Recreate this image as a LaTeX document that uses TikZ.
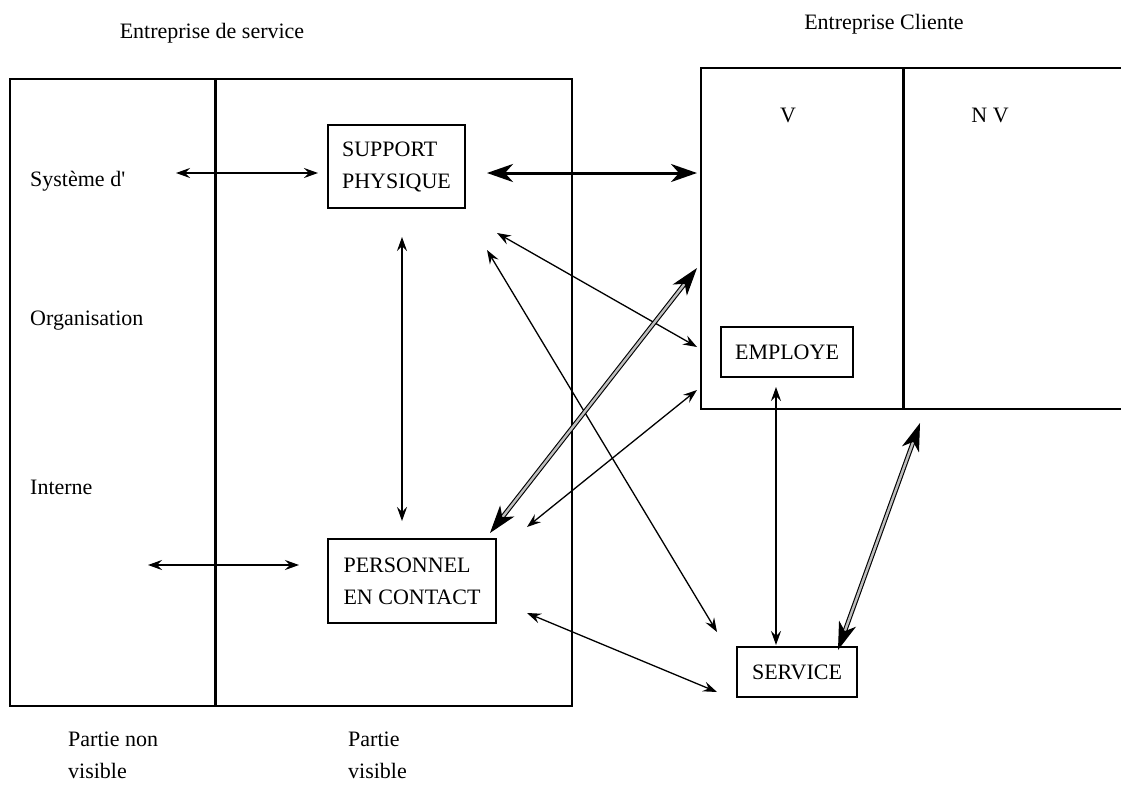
\documentclass[tikz,border=0pt]{standalone}
\usepackage{fontspec}
\setmainfont{Liberation Serif}[Ligatures=TeXOff]
\usetikzlibrary{arrows.meta}
\begin{document}
\begin{tikzpicture}[x=1pt,y=-1pt,
  every node/.style={font=\fontsize{22}{32}\selectfont, inner sep=0pt},
  frame/.style={line width=1.6pt},
  divider/.style={line width=3pt},
  box/.style={draw, line width=1.6pt, align=left, inner xsep=10pt},
  thin/.style={line width=1.3pt, {Stealth[length=14pt,width=10pt,inset=5pt]}-{Stealth[length=14pt,width=10pt,inset=5pt]}},
  bold/.style={line width=3pt, {Stealth[length=26pt,width=18pt,inset=8pt]}-{Stealth[length=26pt,width=18pt,inset=8pt]}},
  twin/.style={double=gray!50, double distance=2.4pt, line width=1.1pt, {Stealth[length=28pt,width=18pt,inset=8pt]}-{Stealth[length=28pt,width=18pt,inset=8pt]}}
]
\useasboundingbox (0,0) rectangle (1121,790);

% service company: hidden and visible parts
\draw[frame] (10,79) rectangle (572,706);
\draw[divider] (215,79) -- (215,706);

% client company: visible and hidden parts
\draw[frame] (1121,68) -- (701,68) -- (701,409) -- (1121,409);
\draw[divider] (903,68) -- (903,409);

% titles
\node (tserv) at (212,33) {Entreprise de service};
\node (tcli) at (884,24) {Entreprise Cliente};
\node (v) at (788,115) {V};
\node (nv) at (990,115) {N V};

% left side labels
\node[anchor=west] (sys) at (30,181) {Système d'};
\node[anchor=west] (org) at (30,321) {Organisation};
\node[anchor=west] (int) at (30,487) {Interne};

% bottom labels
\node[anchor=north west, align=left] (pnv) at (68,732) {Partie non\\visible};
\node[anchor=north west, align=left] (pv) at (348,732) {Partie\\visible};

% boxes
\node[box, minimum width=137pt, minimum height=83pt] (sup) at (396.5,166.5) {SUPPORT\\PHYSIQUE};
\node[box, minimum width=168pt, minimum height=84pt] (pers) at (412,581) {PERSONNEL\\EN CONTACT};
\node[box, minimum width=132pt, minimum height=50pt, align=center] (emp) at (787,352) {EMPLOYE};
\node[box, minimum width=120pt, minimum height=50pt, align=center] (serv) at (797,672) {SERVICE};

% connector end points
\coordinate (a1) at (176,173);
\coordinate (a2) at (318,173);
\coordinate (b1) at (487,173);
\coordinate (b2) at (697,173);
\coordinate (c1) at (402,237);
\coordinate (c2) at (402,521);
\coordinate (d1) at (497,233);
\coordinate (d2) at (697,347);
\coordinate (e1) at (487,250);
\coordinate (e2) at (717,632);
\coordinate (f1) at (490,533);
\coordinate (f2) at (697,268);
\coordinate (g1) at (527,527);
\coordinate (g2) at (697,390);
\coordinate (h1) at (527,613);
\coordinate (h2) at (717,692);
\coordinate (i1) at (148,565);
\coordinate (i2) at (299,565);
\coordinate (j1) at (776,387);
\coordinate (j2) at (776,645);
\coordinate (k1) at (920,423);
\coordinate (k2) at (838,650);

% connectors
\draw[thin] (a1) -- (a2);
\draw[bold] (b1) -- (b2);
\draw[thin] (c1) -- (c2);
\draw[thin] (d1) -- (d2);
\draw[thin] (e1) -- (e2);
\draw[twin] (f1) -- (f2);
\draw[thin] (g1) -- (g2);
\draw[thin] (h1) -- (h2);
\draw[thin] (i1) -- (i2);
\draw[thin] (j1) -- (j2);
\draw[twin] (k1) -- (k2);
\end{tikzpicture}
\end{document}
